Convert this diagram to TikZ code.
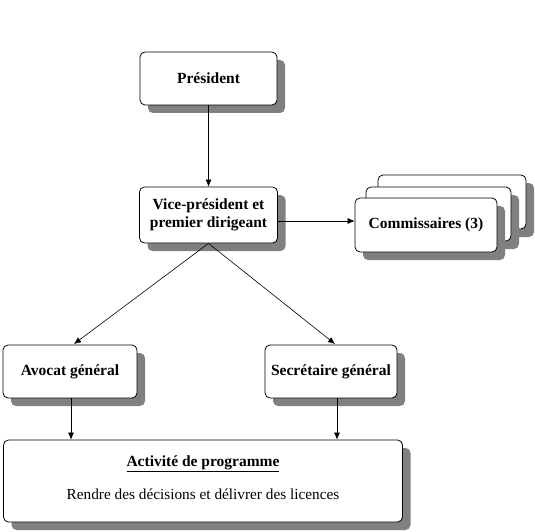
\documentclass[tikz,border=0pt]{standalone}
\usepackage{fontspec}
\setmainfont{Liberation Serif}
\usetikzlibrary{arrows.meta,shadows,calc}
\begin{document}
\begin{tikzpicture}[x=1pt,y=-1pt,
  box/.style={draw=black, line width=0.8pt, fill=white, rounded corners=5pt,
    align=center, inner sep=2pt, font=\fontsize{15.5}{17.5}\selectfont\bfseries,
    drop shadow={shadow xshift=8pt, shadow yshift=-8pt, fill=black!50, opacity=1}},
  arr/.style={draw=black, line width=0.6pt, -{Latex[length=7pt,width=6pt]}}]
\useasboundingbox (0,0) rectangle (535,532);
\node[box, minimum width=137pt, minimum height=53pt] (pres) at (208.5,78.5) {Président};
\node[box, minimum width=138pt, minimum height=56pt] (vice) at (208.5,215) {Vice-président et\\premier dirigeant};
\node[box, minimum width=148pt, minimum height=54pt] (c3) at (452,202) {};
\node[box, minimum width=145pt, minimum height=54pt] (c2) at (438.5,214) {};
\node[box, minimum width=142pt, minimum height=54pt] (c1) at (426,225) {Commissaires (3)};
\node[box, minimum width=134pt, minimum height=53pt] (avo) at (70,371.5) {Avocat général};
\node[box, minimum width=132pt, minimum height=53pt] (sec) at (331,371.5) {Secrétaire général};
\node[box, minimum width=399pt, minimum height=82pt] (act) at (203,481) {};
\node[font=\fontsize{15.5}{17.5}\selectfont\bfseries] (acttitle) at (203,464) {\underline{Activité de programme}};
\node[font=\fontsize{15.3}{17.5}\selectfont] (acttext) at (203,494) {Rendre des décisions et délivrer des licences};
\draw[arr] (pres.south) -- (vice.north);
\draw[arr] (vice.east) ++(0,6) coordinate (va) -- (va -| c1.west);
\coordinate (avotop) at (74,344);
\coordinate (sectop) at (335,344);
\draw[arr] (vice.south) -- (avotop);
\draw[arr] (vice.south) -- (sectop);
\draw[arr] ([xshift=1pt]avo.south) -- ([xshift=1pt]avo.south |- act.north);
\draw[arr] ([xshift=6pt]sec.south) -- ([xshift=6pt]sec.south |- act.north);
\end{tikzpicture}
\end{document}
